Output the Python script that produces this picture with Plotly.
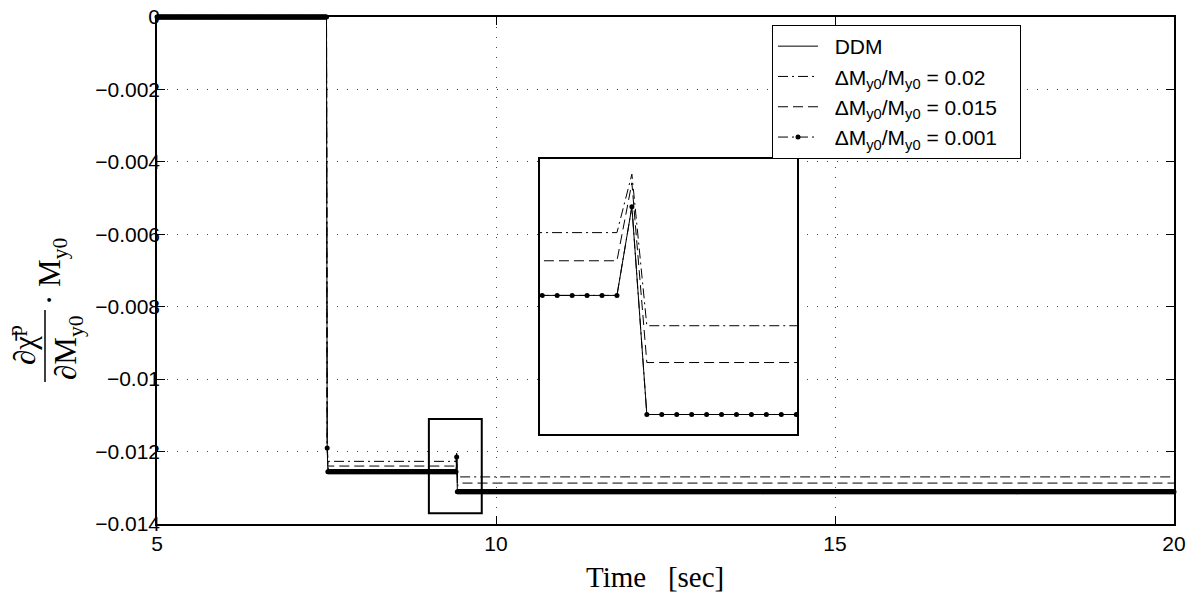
import numpy as np
import plotly.graph_objects as go

# ---------------- data ----------------
# breakpoints of the sampled responses (time in sec), sample step 0.01 s
t_break = [5.00, 7.50, 7.51, 7.52, 9.41, 9.42, 9.43, 20.00]
ddm_vals = [0.0, 0.0, -0.0119, -0.01256, -0.01256, -0.01215, -0.01311, -0.01311]
d002_vals = [0.0, 0.0, -0.0117, -0.01227, -0.01227, -0.01200, -0.01270, -0.01270]
d0015_vals = [0.0, 0.0, -0.0118, -0.01240, -0.01240, -0.01204, -0.01287, -0.01287]

# the 0.001 response: zero-order-hold levels starting at each segment time
seg_start = [5.00, 7.51, 7.52, 9.42, 9.43]
seg_level = [0.0, -0.0119, -0.01256, -0.01215, -0.01311]
sample_dt = 0.01
t_end = 20.0

names = ["DDM",
         "ΔM<sub>y0</sub>/M<sub>y0</sub> = 0.02",
         "ΔM<sub>y0</sub>/M<sub>y0</sub> = 0.015",
         "ΔM<sub>y0</sub>/M<sub>y0</sub> = 0.001"]

x_ticks = [5, 10, 15, 20]
y_ticks = [0, -0.002, -0.004, -0.006, -0.008, -0.01, -0.012, -0.014]
y_ticktext = ["0", "\u22120.002", "\u22120.004", "\u22120.006", "\u22120.008",
              "\u22120.01", "\u22120.012", "\u22120.014"]

# zoom window (small box on main plot) and inset view
zoom_box_x = [9.01, 9.79]
zoom_box_y = [-0.0137, -0.0111]
inset_xrange = [9.3585, 9.5305]
inset_yrange = [-0.0132, -0.01193]

# sampled 0.001 series (hold each level until the next segment starts)
t_samp = np.round(np.arange(5.0, t_end + 1e-9, sample_dt), 2)
idx = np.searchsorted(np.array(seg_start), t_samp + 1e-9, side="right") - 1
v_samp = np.array(seg_level)[idx]

# ---------------- figure ----------------
W, H = 1189, 596
L, R, T, B = 157, 1174, 17, 524
def px(x):  # pixel -> paper x
    return (x - L) / (R - L)
def py(y):  # pixel -> paper y
    return (B - y) / (B - T)

DASH = "10px,5px"
DASHDOT = "10px,4px,2px,4px"
PRE = "\u00a0\u00a0"
POST = "\u00a0\u00a0\u00a0"

fig = go.Figure()
for axx, axy, show, clip in [("x", "y", True, False), ("x2", "y2", False, True)]:
    fig.add_trace(go.Scatter(x=t_break, y=ddm_vals, mode="lines", name=PRE + names[0] + POST,
                             line=dict(color="black", width=1), xaxis=axx, yaxis=axy,
                             showlegend=show, legendrank=1))
    fig.add_trace(go.Scatter(x=t_break, y=d002_vals, mode="lines", name=PRE + names[1] + POST,
                             line=dict(color="black", width=1, dash=DASHDOT), xaxis=axx, yaxis=axy,
                             showlegend=show, legendrank=2))
    fig.add_trace(go.Scatter(x=t_break, y=d0015_vals, mode="lines", name=PRE + names[2] + POST,
                             line=dict(color="black", width=1, dash=DASH), xaxis=axx, yaxis=axy,
                             showlegend=show, legendrank=3))
    fig.add_trace(go.Scatter(x=t_samp, y=v_samp, mode="lines+markers", name=PRE + names[3] + POST,
                             line=dict(color="black", width=1, dash=DASHDOT),
                             marker=dict(color="black", size=5, line=dict(width=0)),
                             xaxis=axx, yaxis=axy, cliponaxis=clip,
                             showlegend=show, legendrank=4))

tickfont = dict(family="Liberation Sans, Arial, sans-serif", size=21, color="black")
grid = dict(showgrid=True, gridcolor="#444", gridwidth=1, griddash="1px,9px")

fig.update_layout(
    width=W, height=H,
    margin=dict(l=L, r=W - R, t=T, b=H - B, autoexpand=False),
    paper_bgcolor="white", plot_bgcolor="white",
    showlegend=True,
    legend=dict(x=px(772), y=py(25), xanchor="left", yanchor="top",
                bgcolor="white", bordercolor="black", borderwidth=1,
                font=dict(family="Liberation Sans, Arial, sans-serif", size=21, color="black"),
                itemwidth=40, tracegroupgap=0),
    xaxis=dict(domain=[0, 1], range=[5, 20], tickvals=x_ticks, ticks="inside", ticklen=8,
               tickcolor="black", showline=True, linecolor="black", linewidth=1.5,
               mirror="ticks", tickfont=tickfont, zeroline=False, automargin=False, **grid),
    yaxis=dict(domain=[0, 1], range=[-0.014, 0], tickvals=y_ticks, ticktext=y_ticktext,
               ticks="inside", ticklen=8, tickcolor="black", showline=True,
               linecolor="black", linewidth=1.5, mirror="ticks", tickfont=tickfont,
               zeroline=False, automargin=False, ticklabelstandoff=-9, **grid),
    xaxis2=dict(domain=[px(540), px(797)], range=inset_xrange, anchor="y2",
                showgrid=False, showticklabels=False, ticks="", zeroline=False,
                showline=True, linecolor="black", linewidth=2, mirror=True),
    yaxis2=dict(domain=[py(434), py(159)], range=inset_yrange, anchor="x2",
                showgrid=False, showticklabels=False, ticks="", zeroline=False,
                showline=True, linecolor="black", linewidth=2, mirror=True),
)

# small zoom box on main axes
fig.add_shape(type="rect", xref="x", yref="y",
              x0=zoom_box_x[0], x1=zoom_box_x[1], y0=zoom_box_y[0], y1=zoom_box_y[1],
              line=dict(color="black", width=2), layer="above")

serif = "Liberation Serif, Times New Roman, serif"
# x title
fig.add_annotation(text="Time&nbsp;&nbsp;&nbsp;[sec]", xref="paper", yref="paper",
                   x=px(655), y=py(577), xanchor="center", yanchor="middle",
                   showarrow=False, font=dict(family=serif, size=29, color="black"))
# y label (fraction) built from pieces
fig.add_annotation(text="\u2202\u03c7\u0304<sup>p</sup>", xref="paper", yref="paper",
                   x=px(22), y=py(345), xanchor="center", yanchor="middle", textangle=-90,
                   showarrow=False, font=dict(family=serif, size=31, color="black"))
fig.add_annotation(text="\u2202M<sub>y0</sub>", xref="paper", yref="paper",
                   x=px(68), y=py(348), xanchor="center", yanchor="middle", textangle=-90,
                   showarrow=False, font=dict(family=serif, size=31, color="black"))
fig.add_annotation(text="\u00b7 M<sub>y0</sub>", xref="paper", yref="paper",
                   x=px(52), y=py(272), xanchor="center", yanchor="middle", textangle=-90,
                   showarrow=False, font=dict(family=serif, size=31, color="black"))
fig.add_shape(type="line", xref="paper", yref="paper",
              x0=px(45), x1=px(45), y0=py(310), y1=py(382),
              line=dict(color="black", width=1.5))

fig.write_html("out.html", post_script="document.body.style.margin='0px';",
               config={"displayModeBar": False})
